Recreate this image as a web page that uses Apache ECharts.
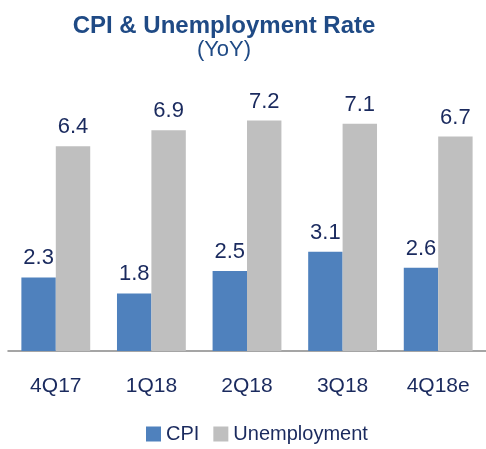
<!DOCTYPE html>
<html>
<head>
<meta charset="utf-8">
<script src="https://cdn.jsdelivr.net/npm/echarts@6/dist/echarts.min.js"></script>
<style>
  html, body { margin: 0; padding: 0; background: #fff; }
  #chartBox { width: 486px; height: 449px; }
</style>
</head>
<body>
<div id="chartBox"></div>
<script>
  // 数据
  const quarters = ['4Q17', '1Q18', '2Q18', '3Q18', '4Q18e']
  const cpi = [2.3, 1.8, 2.5, 3.1, 2.6]
  const unemployment = [6.4, 6.9, 7.2, 7.1, 6.7]

  const font = '"Liberation Sans", Arial, sans-serif'
  const navy = '#1a2a5e'

  const chart = echarts.init(document.getElementById('chartBox'))
  let option = {
    animation: false,
    title: {
      text: 'CPI & Unemployment Rate',
      subtext: '(YoY)',
      left: 219,
      textAlign: 'center',
      top: 9,
      itemGap: 1,
      textStyle: { color: '#1f4a85', fontSize: 24, fontWeight: 'bold', fontFamily: font },
      subtextStyle: { color: '#1f4a85', fontSize: 22, fontFamily: font }
    },
    legend: {
      bottom: 0,
      left: 141,
      itemWidth: 15,
      itemHeight: 15,
      itemGap: 14,
      icon: 'rect',
      textStyle: { color: navy, fontSize: 20, fontFamily: font },
      data: ['CPI', 'Unemployment']
    },
    grid: { left: 8, right: 0, top: 95, bottom: 98 },
    xAxis: {
      type: 'category',
      data: quarters,
      axisLine: { lineStyle: { color: '#888', width: 1.5 } },
      axisTick: { length: 6, lineStyle: { color: '#888' } },
      axisLabel: { color: navy, fontSize: 21, fontFamily: font, margin: 25 }
    },
    yAxis: {
      type: 'value',
      min: 0,
      max: 8,
      show: false,
      splitLine: { show: false }
    },
    series: [
      {
        name: 'CPI',
        type: 'bar',
        data: cpi,
        barGap: '0%',
        barCategoryGap: '28%',
        itemStyle: { color: '#4f81bd' },
        label: { show: true, position: 'top', distance: 8, color: navy, fontSize: 22, fontFamily: font }
      },
      {
        name: 'Unemployment',
        type: 'bar',
        data: unemployment,
        itemStyle: { color: '#bfbfbf' },
        label: { show: true, position: 'top', distance: 8, color: navy, fontSize: 22, fontFamily: font }
      }
    ]
  }
  option && chart.setOption(option)
</script>
</body>
</html>
